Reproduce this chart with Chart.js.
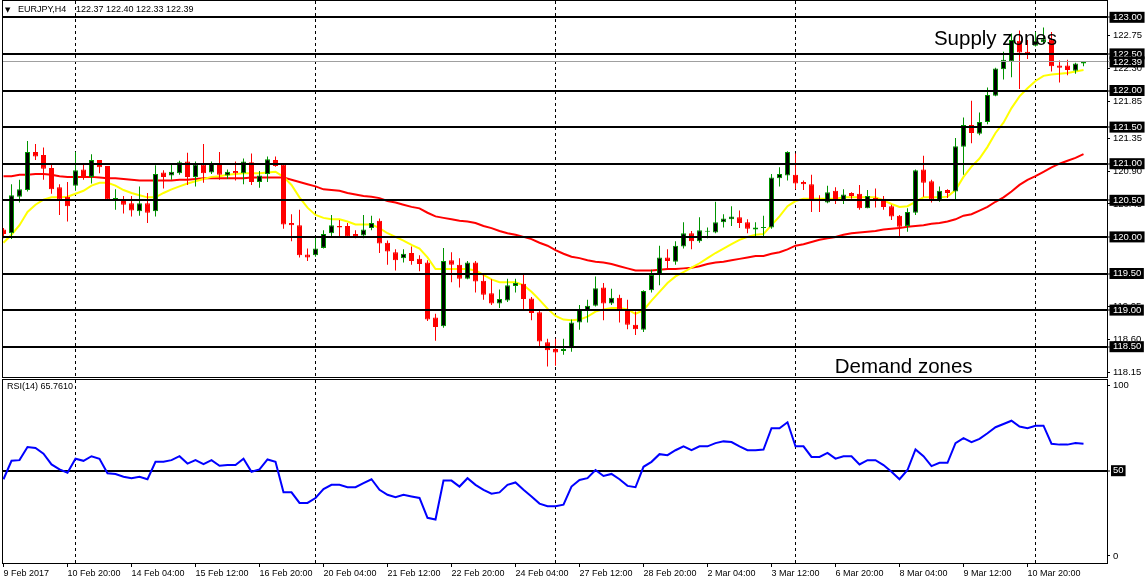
<!DOCTYPE html>
<html><head><meta charset="utf-8">
<script src="https://cdn.jsdelivr.net/npm/chart.js@4.4.0/dist/chart.umd.min.js"></script>
<style>
html,body{margin:0;padding:0;background:#fff;}
#wrap{position:relative;width:1147px;height:585px;overflow:hidden;background:#fff;}
#main{position:absolute;left:0;top:0;}
#rsi{position:absolute;left:0;top:378px;}
</style></head><body>
<div id="wrap"><canvas id="main" width="1147" height="378"></canvas><canvas id="rsi" width="1147" height="207"></canvas></div>
<script>
// ---------------- data ----------------
const symbolTitle = 'EURJPY,H4';
const lastQuote = ['122.37', '122.40', '122.33', '122.39'];
const rsiTitle = 'RSI(14) 65.7610';

const timeLabels = ['9 Feb 2017','10 Feb 20:00','14 Feb 04:00','15 Feb 12:00','16 Feb 20:00','20 Feb 04:00','21 Feb 12:00','22 Feb 20:00','24 Feb 04:00','27 Feb 12:00','28 Feb 20:00','2 Mar 04:00','3 Mar 12:00','6 Mar 20:00','8 Mar 04:00','9 Mar 12:00','10 Mar 20:00'];
const labelBars = [0,8,16,24,32,40,48,56,64,72,80,88,96,104,112,120,128];
const separatorBars = [9,39,69,99,129];

const open = [120.10,120.05,120.55,120.64,121.16,121.12,120.94,120.68,120.55,120.70,120.92,120.82,121.05,120.97,120.51,120.51,120.46,120.35,120.46,120.35,
120.88,120.84,120.87,121.03,120.82,120.99,120.88,121.01,120.84,120.90,120.87,121.02,120.75,120.86,121.05,120.99,120.19,120.16,119.76,119.75,
119.85,120.05,120.15,120.15,120.04,120.02,120.12,120.22,119.92,119.79,119.71,119.78,119.70,119.65,118.90,118.78,119.68,119.62,119.43,119.65,
119.40,119.23,119.09,119.13,119.33,119.36,119.16,118.97,118.56,118.47,118.44,118.48,118.83,119.00,119.06,119.31,119.09,119.17,119.00,118.80,
118.73,119.27,119.49,119.72,119.66,119.87,120.05,119.94,120.07,120.06,120.20,120.24,120.27,120.20,120.10,120.12,120.13,120.80,120.84,120.85,
120.75,120.72,120.50,120.47,120.63,120.50,120.60,120.59,120.39,120.53,120.52,120.42,120.29,120.15,120.33,120.92,120.76,120.50,120.64,120.62,
121.23,121.53,121.41,121.57,121.93,122.29,122.40,122.68,122.53,122.61,122.66,122.70,122.34,122.34,122.27,122.37];
const high = [120.12,120.72,120.78,121.31,121.27,121.22,121.01,120.72,120.75,121.16,121.01,121.13,121.05,120.97,120.65,120.56,120.56,120.69,120.60,120.98,
120.91,121.01,121.04,121.15,121.03,121.27,121.03,121.16,120.92,121.03,121.07,121.14,120.90,121.10,121.10,121.01,120.31,120.37,119.84,120.01,
120.09,120.30,120.23,120.19,120.09,120.30,120.29,120.25,119.95,119.83,119.83,119.87,119.75,119.68,118.95,119.85,119.79,119.71,119.67,119.67,
119.50,119.42,119.28,119.43,119.43,119.50,119.18,119.00,118.61,118.61,118.61,118.87,119.07,119.14,119.46,119.37,119.29,119.21,119.14,118.98,
119.27,119.55,119.88,119.83,119.94,120.20,120.08,120.27,120.13,120.48,120.31,120.42,120.36,120.24,120.20,120.29,120.86,120.95,121.17,121.14,
120.77,120.85,120.57,120.70,120.68,120.65,120.61,120.71,120.64,120.66,120.56,120.44,120.30,120.39,120.92,121.11,120.78,120.69,120.65,121.35,
121.63,121.86,121.70,122.04,122.31,122.53,122.78,122.82,122.69,122.80,122.86,122.80,122.41,122.42,122.38,122.40];
const low = [119.98,119.97,120.47,120.62,121.05,120.78,120.59,120.30,120.21,120.63,120.78,120.73,120.87,120.50,120.37,120.32,120.28,120.29,120.19,120.28,
120.66,120.78,120.85,120.71,120.69,120.74,120.86,120.78,120.79,120.77,120.72,120.71,120.67,120.75,120.96,120.11,119.94,119.72,119.67,119.73,
119.84,119.99,120.00,120.00,119.98,119.98,120.09,119.78,119.62,119.54,119.65,119.62,119.53,118.85,118.58,118.76,119.38,119.31,119.42,119.24,
119.14,119.07,119.03,119.11,119.24,119.01,118.86,118.51,118.23,118.24,118.39,118.43,118.73,118.83,119.05,118.86,119.07,118.83,118.74,118.66,
118.70,119.24,119.34,119.55,119.62,119.84,119.83,119.92,119.98,120.05,120.13,120.15,120.12,120.05,120.00,120.01,120.11,120.69,120.77,120.65,
120.64,120.34,120.34,120.46,120.45,120.45,120.52,120.37,120.39,120.40,120.37,120.23,120.00,120.07,120.30,120.55,120.47,120.48,120.53,120.50,
120.85,121.28,121.39,121.54,121.92,122.15,122.18,122.02,122.43,122.60,122.65,122.26,122.11,122.21,122.23,122.33];
const close = [120.04,120.57,120.65,121.16,121.10,120.93,120.65,120.51,120.42,120.91,120.82,121.05,120.95,120.51,120.53,120.44,120.36,120.46,120.33,120.86,
120.82,120.89,121.02,120.82,120.99,120.87,121.00,120.85,120.89,120.87,121.03,120.75,120.84,121.06,120.97,120.17,120.16,119.75,119.72,119.84,
120.04,120.16,120.13,120.01,120.00,120.10,120.19,119.91,119.80,119.68,119.77,119.67,119.63,118.87,118.77,119.67,119.62,119.43,119.65,119.39,
119.21,119.09,119.15,119.34,119.37,119.15,118.96,118.57,118.45,118.42,118.47,118.83,119.00,119.06,119.30,119.09,119.17,119.01,118.80,118.74,
119.26,119.48,119.72,119.67,119.88,120.05,119.94,120.09,120.08,120.20,120.25,120.28,120.19,120.11,120.13,120.13,120.81,120.86,121.16,120.73,
120.72,120.50,120.49,120.61,120.49,120.58,120.56,120.39,120.56,120.50,120.41,120.28,120.14,120.34,120.91,120.74,120.51,120.63,120.60,121.24,
121.53,121.42,121.57,121.94,122.30,122.42,122.69,122.52,122.50,122.68,122.70,122.33,122.31,122.28,122.37,122.39];

const maFast = [119.92,120.03,120.16,120.34,120.44,120.51,120.54,120.54,120.55,120.59,120.63,120.70,120.74,120.74,120.70,120.64,120.60,120.57,120.54,120.54,
120.60,120.65,120.69,120.73,120.76,120.79,120.82,120.83,120.85,120.86,120.87,120.87,120.87,120.88,120.89,120.82,120.71,120.54,120.40,120.30,
120.26,120.24,120.24,120.21,120.17,120.17,120.17,120.12,120.05,120.00,119.95,119.89,119.84,119.72,119.56,119.56,119.56,119.56,119.56,119.54,
119.48,119.42,119.38,119.38,119.38,119.34,119.25,119.14,119.02,118.92,118.87,118.86,118.87,118.91,118.98,119.01,119.03,119.03,119.01,118.95,
119.00,119.13,119.25,119.37,119.46,119.52,119.58,119.64,119.71,119.78,119.84,119.90,119.96,120.00,120.03,120.04,120.16,120.28,120.42,120.49,
120.52,120.52,120.52,120.52,120.52,120.54,120.54,120.54,120.54,120.54,120.50,120.45,120.41,120.42,120.48,120.54,120.54,120.54,120.55,120.64,
120.82,120.96,121.07,121.23,121.42,121.56,121.76,121.92,122.03,122.13,122.20,122.22,122.23,122.24,122.26,122.28];
const maSlow = [120.83,120.83,120.85,120.85,120.86,120.86,120.85,120.83,120.82,120.82,120.82,120.82,120.81,120.80,120.80,120.79,120.78,120.77,120.77,120.77,
120.77,120.77,120.78,120.78,120.79,120.80,120.80,120.80,120.80,120.80,120.80,120.81,120.81,120.81,120.81,120.81,120.78,120.75,120.72,120.69,
120.65,120.64,120.63,120.60,120.58,120.56,120.55,120.53,120.49,120.47,120.44,120.41,120.39,120.33,120.28,120.26,120.24,120.22,120.21,120.19,
120.15,120.12,120.08,120.05,120.03,120.00,119.97,119.92,119.88,119.82,119.77,119.73,119.71,119.68,119.66,119.65,119.63,119.60,119.57,119.54,
119.54,119.54,119.55,119.56,119.56,119.57,119.58,119.60,119.63,119.65,119.66,119.68,119.70,119.72,119.74,119.74,119.77,119.79,119.83,119.88,
119.90,119.93,119.96,119.98,120.00,120.03,120.05,120.06,120.07,120.08,120.10,120.11,120.12,120.14,120.15,120.16,120.18,120.19,120.21,120.24,
120.29,120.31,120.36,120.41,120.48,120.54,120.62,120.71,120.78,120.83,120.89,120.95,121.00,121.04,121.08,121.13];
const rsi14 = [45.0,55.8,56.2,63.9,63.3,60.0,53.7,50.8,48.8,57.0,55.8,58.5,57.0,48.5,48.1,46.5,45.6,46.5,45.0,55.2,
55.2,56.2,58.5,54.2,56.2,53.9,56.2,52.9,53.3,53.3,57.0,49.4,50.8,56.6,55.2,37.3,37.3,31.1,31.1,34.0,
39.2,41.7,41.7,40.3,40.3,42.7,45.0,38.8,35.9,34.4,35.9,34.9,34.0,22.4,21.4,44.2,44.2,40.7,45.6,41.7,
38.8,36.5,37.3,41.7,43.1,38.8,34.9,30.7,29.2,29.2,30.1,40.7,44.6,45.6,50.4,46.9,48.1,45.0,41.1,40.3,
52.3,55.2,59.7,59.1,62.0,64.3,62.0,64.3,64.3,66.2,67.2,66.8,64.3,62.0,62.0,62.4,74.9,74.9,78.4,64.3,
64.3,58.1,58.1,60.4,57.1,58.5,58.5,53.7,56.2,56.2,53.3,49.4,45.0,50.4,62.5,58.5,52.7,54.6,54.6,66.2,
69.1,66.8,68.7,72.0,75.5,77.4,79.3,75.9,74.9,76.4,76.4,65.8,65.3,65.3,66.2,65.76];

const priceTicks = [122.75,122.30,121.85,121.35,120.90,120.45,119.05,118.60,118.15];
const priceLevels = [123.00,122.50,122.00,121.50,121.00,120.50,120.00,119.50,119.00,118.50];
const currentPrice = 122.39;
const rsiTicks = [100, 0];
const rsiLevels = [50];

const noteTexts = ['Supply zones', 'Demand zones'];
const noteBars = [116.3, 103.9];
const notePrices = [122.62, 118.14];

// ---------------- styling ----------------
const FONT = "'Liberation Sans', Arial, sans-serif";
const GREEN = '#009400';
const RED = '#ff0000';
const X_MIN = -0.0625, X_MAX = 137.9375;

const isUp = close.map((c, i) => c >= open[i]);
const bodies = open.map((o, i) => ({x: i, y: [o, close[i]]}));
const wicks = open.map((o, i) => ({x: i, y: [low[i], high[i]]}));
const pts = arr => arr.map((v, i) => ({x: i, y: v}));

const noPad = s => { s.paddingTop = 0; s.paddingBottom = 0; s.paddingLeft = 0; s.paddingRight = 0; };

const framePlugin = {
  id: 'frame',
  afterDraw(chart) {
    const {ctx, chartArea: a} = chart;
    ctx.save();
    ctx.strokeStyle = '#000';
    ctx.lineWidth = 1;
    ctx.strokeRect(a.left - 0.5, a.top - 0.5, a.right - a.left + 1, a.bottom - a.top + 1);
    ctx.restore();
  }
};
const textPlugin = {
  id: 'texts',
  afterDraw(chart, args, opts) {
    const {ctx, chartArea: a, scales} = chart;
    ctx.save();
    (opts.items || []).forEach(it => {
      ctx.font = it.font;
      ctx.fillStyle = it.color || '#000';
      ctx.textBaseline = it.baseline || 'alphabetic';
      ctx.textAlign = 'left';
      let x, y;
      if (it.px) { x = a.left + it.px[0]; y = a.top + it.px[1]; }
      else { x = scales.x.getPixelForValue(it.x); y = scales.y.getPixelForValue(it.y); }
      ctx.fillText(it.text, x, y);
    });
    ctx.restore();
  }
};

const isLevel = v => priceLevels.some(l => Math.abs(l - v) < 1e-9);
const isCurrent = v => Math.abs(v - currentPrice) < 1e-9;
const boxed = v => isLevel(v) || isCurrent(v);

const smallFont = {family: FONT, size: 9.5, lineHeight: '10px'};

new Chart(document.getElementById('main'), {
  type: 'bar',
  data: {
    datasets: [
      {type: 'bar', data: bodies, barThickness: 5, grouped: false, minBarLength: 1, inflateAmount: 0,
        backgroundColor: c => isUp[c.dataIndex] ? '#000000' : RED,
        borderColor: c => isUp[c.dataIndex] ? GREEN : RED,
        borderWidth: 1, borderSkipped: false, clip: 0, order: 1},
      {type: 'bar', data: wicks, barThickness: 1, grouped: false, inflateAmount: 0,
        backgroundColor: c => isUp[c.dataIndex] ? GREEN : RED,
        borderWidth: 0, clip: 0, order: 2},
      {type: 'line', data: pts(maFast), borderColor: '#ffff00', borderWidth: 2, pointRadius: 0, tension: 0, clip: 0, order: 3},
      {type: 'line', data: pts(maSlow), borderColor: '#ff0000', borderWidth: 2, pointRadius: 0, tension: 0, clip: 0, order: 4}
    ]
  },
  options: {
    responsive: false, animation: false, devicePixelRatio: 1,
    layout: {padding: {left: 3, top: 1, right: 0, bottom: 1}},
    plugins: {
      legend: {display: false}, tooltip: {enabled: false},
      texts: {items: [
        {text: '\u25BC', px: [2, 9], font: "7px 'DejaVu Sans'", baseline: 'middle'},
        {text: symbolTitle, px: [15, 9], font: '9px ' + FONT, baseline: 'middle'},
        {text: lastQuote.join(' '), px: [73, 9], font: '9px ' + FONT, baseline: 'middle'},
        {text: noteTexts[0], x: noteBars[0], y: notePrices[0], font: '20.5px ' + FONT},
        {text: noteTexts[1], x: noteBars[1], y: notePrices[1], font: '20.5px ' + FONT}
      ]}
    },
    scales: {
      x: {
        type: 'linear', min: X_MIN, max: X_MAX, position: 'bottom', offset: false,
        afterBuildTicks(s) { s.ticks = separatorBars.map(v => ({value: v})); },
        afterFit(s) { s.height = 0; noPad(s); },
        ticks: {display: false},
        grid: {color: '#000', drawTicks: false, lineWidth: 1, offset: false},
        border: {display: false, dash: [3, 3]}
      },
      y: {
        type: 'linear', position: 'right', min: 118.0861, max: 123.2227,
        afterFit(s) { s.width = 40; noPad(s); },
        afterBuildTicks(s) { s.ticks = [...priceTicks, ...priceLevels, currentPrice].map(v => ({value: v})); },
        ticks: {
          autoSkip: false, padding: 3, crossAlign: 'near', font: smallFont,
          color: c => (c.tick && boxed(c.tick.value)) ? '#ffffff' : '#000000',
          showLabelBackdrop: c => !!(c.tick && boxed(c.tick.value)),
          backdropColor: '#000000',
          backdropPadding: {top: 0.5, bottom: 0.5, left: 3.5, right: 2.5},
          callback: v => Number(v).toFixed(2)
        },
        grid: {
          z: 1,
          color: c => !c.tick ? 'rgba(0,0,0,0)' : isLevel(c.tick.value) ? '#000000' : isCurrent(c.tick.value) ? '#a0a0a0' : 'rgba(0,0,0,0)',
          lineWidth: c => (c.tick && isLevel(c.tick.value)) ? 2 : 1,
          tickColor: c => (c.tick && isCurrent(c.tick.value)) ? '#a0a0a0' : '#000000',
          tickWidth: 1, tickLength: 3, drawTicks: true
        },
        border: {display: false}
      }
    }
  },
  plugins: [framePlugin, textPlugin]
});

const isRsiLevel = v => rsiLevels.includes(v);
new Chart(document.getElementById('rsi'), {
  type: 'line',
  data: {datasets: [{data: pts(rsi14), borderColor: '#0000ff', borderWidth: 2, pointRadius: 0, tension: 0, clip: 0}]},
  options: {
    responsive: false, animation: false, devicePixelRatio: 1,
    layout: {padding: {left: 3, top: 2, right: 0, bottom: 0}},
    plugins: {
      legend: {display: false}, tooltip: {enabled: false},
      texts: {items: [{text: rsiTitle, px: [4, 7], font: '9px ' + FONT, baseline: 'middle'}]}
    },
    scales: {
      x: {
        type: 'linear', min: X_MIN, max: X_MAX, position: 'bottom', offset: false,
        afterBuildTicks(s) { s.ticks = [...labelBars, ...separatorBars].map(v => ({value: v})); },
        afterFit(s) { s.height = 22; noPad(s); },
        ticks: {
          autoSkip: false, maxRotation: 0, minRotation: 0, align: 'start', padding: 1,
          font: {family: FONT, size: 9, lineHeight: '11px'}, color: '#000',
          callback: v => { const i = labelBars.indexOf(v); return i >= 0 ? timeLabels[i] : ''; }
        },
        grid: {
          color: c => (c.tick && separatorBars.includes(c.tick.value)) ? '#000' : 'rgba(0,0,0,0)',
          tickColor: c => (c.tick && labelBars.includes(c.tick.value)) ? '#000' : 'rgba(0,0,0,0)',
          tickLength: 4, tickWidth: 1, lineWidth: 1, drawTicks: true, offset: false
        },
        border: {display: false, dash: [3, 3]}
      },
      y: {
        type: 'linear', position: 'right', min: -4.13, max: 103.2,
        afterFit(s) { s.width = 40; noPad(s); },
        afterBuildTicks(s) { s.ticks = [...rsiTicks, ...rsiLevels].map(v => ({value: v})); },
        ticks: {
          autoSkip: false, padding: 3, crossAlign: 'near', font: smallFont,
          color: c => (c.tick && isRsiLevel(c.tick.value)) ? '#fff' : '#000',
          showLabelBackdrop: c => !!(c.tick && isRsiLevel(c.tick.value)),
          backdropColor: '#000',
          backdropPadding: {top: 0.5, bottom: 0.5, left: 2, right: 2},
          callback: v => String(v)
        },
        grid: {
          color: c => (c.tick && isRsiLevel(c.tick.value)) ? '#000' : 'rgba(0,0,0,0)',
          lineWidth: c => (c.tick && isRsiLevel(c.tick.value)) ? 2 : 1,
          tickColor: '#000', tickWidth: 1, tickLength: 3, drawTicks: true
        },
        border: {display: false}
      }
    }
  },
  plugins: [framePlugin, textPlugin]
});
</script>
</body></html>
